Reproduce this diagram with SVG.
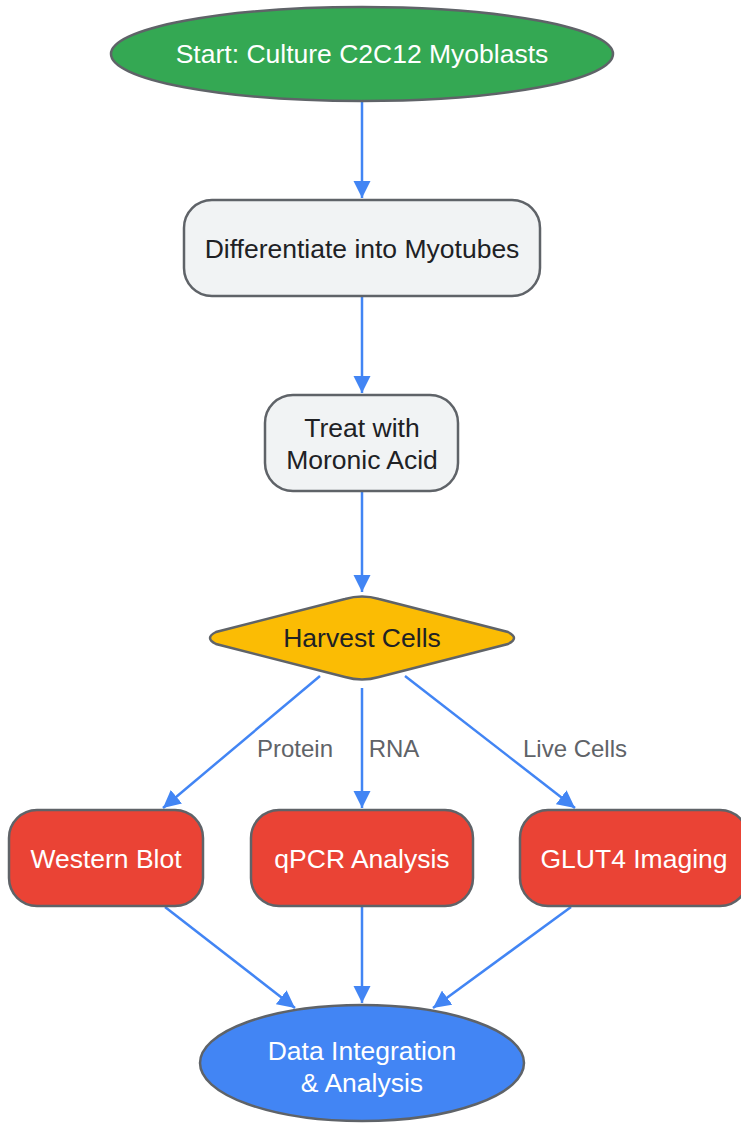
<svg xmlns="http://www.w3.org/2000/svg" width="741" height="1123" viewBox="0 0 741 1123">
<style>
.n{stroke:#5f6368;stroke-width:2.5}
.t{font-family:"Liberation Sans",Arial,sans-serif;font-size:26.5px;text-anchor:middle}
.w{fill:#ffffff}
.d{fill:#202124}
.e{stroke:#4285f4;stroke-width:2.5;fill:none;marker-end:url(#ah)}
.l{font-family:"Liberation Sans",Arial,sans-serif;font-size:24px;fill:#5f6368;text-anchor:middle}
</style>
<defs>
<marker id="ah" viewBox="0 0 10 10" refX="10" refY="5" markerWidth="7" markerHeight="7" markerUnits="strokeWidth" orient="auto">
<path d="M0,0 L10,5 L0,10 Z" fill="#4285f4"/>
</marker>
</defs>
<rect width="741" height="1123" fill="#ffffff"/>
<g id="edges">
<line class="e" x1="362" y1="101" x2="362" y2="198"/>
<line class="e" x1="362" y1="296" x2="362" y2="393"/>
<line class="e" x1="362" y1="491" x2="362" y2="592"/>
<line class="e" x1="320" y1="676" x2="163" y2="808"/>
<line class="e" x1="362" y1="688" x2="362" y2="808"/>
<line class="e" x1="405" y1="676" x2="575" y2="808"/>
<line class="e" x1="165" y1="907" x2="295" y2="1008"/>
<line class="e" x1="362" y1="907" x2="362" y2="1003"/>
<line class="e" x1="571" y1="907" x2="433" y2="1008"/>
<text class="l" x="295" y="757">Protein</text>
<text class="l" x="394" y="757">RNA</text>
<text class="l" x="575" y="757">Live Cells</text>
</g>
<g id="start">
<ellipse class="n" cx="362" cy="54" rx="251" ry="47" fill="#34a853"/>
<text class="t w" x="362" y="63">Start: Culture C2C12 Myoblasts</text>
</g>
<g id="differentiate">
<rect class="n" x="184" y="200" width="356" height="96" rx="28" fill="#f1f3f4"/>
<text class="t d" x="362" y="258">Differentiate into Myotubes</text>
</g>
<g id="treat">
<rect class="n" x="265" y="395" width="193" height="96" rx="28" fill="#f1f3f4"/>
<text class="t d" x="362" y="437">Treat with</text>
<text class="t d" x="362" y="469">Moronic Acid</text>
</g>
<g id="harvest">
<path class="n" d="M345,599 Q362,594 379,599 L508,632 Q520,638 508,644 L379,677 Q362,682 345,677 L216,644 Q204,638 216,632 Z" fill="#fbbc04"/>
<text class="t d" x="362" y="647">Harvest Cells</text>
</g>
<g id="western">
<rect class="n" x="9" y="810" width="194" height="96" rx="28" fill="#ea4335"/>
<text class="t w" x="106" y="868">Western Blot</text>
</g>
<g id="qpcr">
<rect class="n" x="251" y="810" width="222" height="96" rx="28" fill="#ea4335"/>
<text class="t w" x="362" y="868">qPCR Analysis</text>
</g>
<g id="glut4">
<rect class="n" x="520" y="810" width="228" height="96" rx="28" fill="#ea4335"/>
<text class="t w" x="634" y="868">GLUT4 Imaging</text>
</g>
<g id="data">
<ellipse class="n" cx="362" cy="1063" rx="162" ry="58" fill="#4285f4"/>
<text class="t w" x="362" y="1060">Data Integration</text>
<text class="t w" x="362" y="1092">&amp; Analysis</text>
</g>
</svg>
